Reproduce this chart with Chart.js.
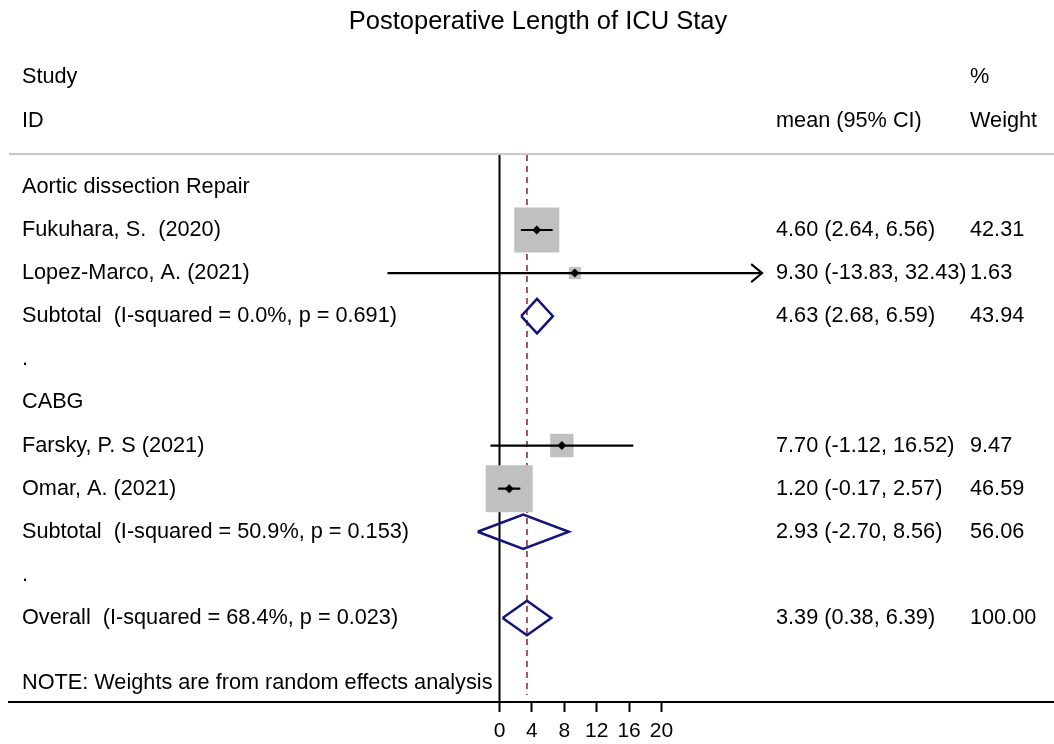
<!DOCTYPE html>
<html>
<head>
<meta charset="utf-8">
<title>Postoperative Length of ICU Stay</title>
<script src="https://cdn.jsdelivr.net/npm/chart.js@4.4.1/dist/chart.umd.min.js"></script>
<style>
  html, body { margin: 0; padding: 0; background: #fff; }
  #wrap { width: 1054px; height: 744px; }
</style>
</head>
<body>
<div id="wrap"><canvas id="forest" width="1054" height="744"></canvas></div>
<script>
const titulo = "Postoperative Length of ICU Stay";
const nota = "NOTE: Weights are from random effects analysis";

// rows 1..11, top to bottom
const rowLabels = [
  "Aortic dissection Repair",
  "Fukuhara, S.  (2020)",
  "Lopez-Marco, A. (2021)",
  "Subtotal  (I-squared = 0.0%, p = 0.691)",
  ".",
  "CABG",
  "Farsky, P. S (2021)",
  "Omar, A. (2021)",
  "Subtotal  (I-squared = 50.9%, p = 0.153)",
  ".",
  "Overall  (I-squared = 68.4%, p = 0.023)"
];

const studyRows = [2, 3, 7, 8];
const studyMean = [4.60, 9.30, 7.70, 1.20];
const studyLow = [2.64, -13.83, -1.12, -0.17];
const studyHigh = [6.56, 32.43, 16.52, 2.57];
const studyWeight = [42.31, 1.63, 9.47, 46.59];

const poolRows = [4, 9, 11];
const poolMean = [4.63, 2.93, 3.39];
const poolLow = [2.68, -2.70, 0.38];
const poolHigh = [6.59, 8.56, 6.39];
const poolWeight = [43.94, 56.06, 100.00];

const xTicks = [0, 4, 8, 12, 16, 20];

// layout / style
const FONT = '"Liberation Sans", Arial, sans-serif';
const Y_MIN = 0.26, Y_MAX = 12.95;
const NOTE_ROW = 12.5, STUDY_HDR = -1.55, ID_HDR = -0.53;
const DIAMOND_H = 0.4;
const ARROW_AT = 20;
const overall = poolMean[poolMean.length - 1];

Chart.defaults.font.family = FONT;
Chart.defaults.color = "#000";

function fmt(v) { return v.toFixed(2); }

const datasets = [];

// reference lines (bottom)
datasets.push({
  data: [{ x: 0, y: Y_MIN }, { x: 0, y: Y_MAX }],
  showLine: true, borderColor: "#000", borderWidth: 2, pointRadius: 0, order: 10
});
datasets.push({
  data: [{ x: overall, y: Y_MIN }, { x: overall, y: 12.79 }],
  showLine: true, borderColor: "#962a3a", borderWidth: 1.6, borderDash: [6, 5], pointRadius: 0, order: 9
});

// grey weight boxes
datasets.push({
  data: studyRows.map((r, i) => ({ x: studyMean[i], y: r })),
  pointStyle: "rect",
  pointRadius: c => (4 + 6.3 * Math.sqrt(studyWeight[c.dataIndex])) / Math.SQRT2,
  backgroundColor: "#c0c0c0", borderWidth: 0, order: 8
});

// CI lines
studyRows.forEach((r, i) => {
  datasets.push({
    data: [{ x: studyLow[i], y: r }, { x: studyHigh[i], y: r }],
    showLine: true, borderColor: "#000", borderWidth: 2.2, pointRadius: 0, order: 5
  });
});

// pooled diamonds
poolRows.forEach((r, i) => {
  datasets.push({
    data: [
      { x: poolLow[i], y: r },
      { x: poolMean[i], y: r - DIAMOND_H },
      { x: poolHigh[i], y: r },
      { x: poolMean[i], y: r + DIAMOND_H },
      { x: poolLow[i], y: r }
    ],
    showLine: true, borderColor: "#14147a", borderWidth: 2.5, pointRadius: 0,
    borderJoinStyle: "miter", order: 4
  });
});

// point estimates
datasets.push({
  data: studyRows.map((r, i) => ({ x: studyMean[i], y: r })),
  pointStyle: "rectRot", pointRadius: 4.5, backgroundColor: "#000", borderWidth: 0, order: 1
});

const forestText = {
  id: "forestText",
  beforeDatasetsDraw(chart) {
    const { ctx, chartArea } = chart;
    ctx.save();
    ctx.strokeStyle = "#c8c8c8";
    ctx.lineWidth = 2;
    ctx.beginPath();
    ctx.moveTo(chartArea.left, chartArea.top - 1);
    ctx.lineTo(chartArea.right, chartArea.top - 1);
    ctx.stroke();
    ctx.restore();
  },
  afterDatasetsDraw(chart) {
    const { ctx, scales: { x, y } } = chart;
    ctx.save();
    ctx.strokeStyle = "#000";
    ctx.lineWidth = 2;
    studyRows.forEach((r, i) => {
      if (studyHigh[i] <= ARROW_AT) return;
      const px = x.getPixelForValue(studyHigh[i]);
      const py = y.getPixelForValue(r);
      ctx.beginPath();
      ctx.moveTo(px - 11, py - 9);
      ctx.lineTo(px, py);
      ctx.lineTo(px - 11, py + 9);
      ctx.stroke();
    });
    ctx.restore();
  },
  afterDraw(chart) {
    const { ctx, scales: { y } } = chart;
    ctx.save();
    ctx.fillStyle = "#000";
    ctx.textBaseline = "middle";
    ctx.textAlign = "center";
    ctx.font = "25.5px " + FONT;
    ctx.fillText(titulo, 538, 22);

    ctx.textAlign = "left";
    ctx.font = "21.7px " + FONT;
    ctx.fillText("Study", 22, y.getPixelForValue(STUDY_HDR));
    ctx.fillText("ID", 22, y.getPixelForValue(ID_HDR));
    ctx.fillText("%", 970, y.getPixelForValue(STUDY_HDR));
    ctx.fillText("Weight", 970, y.getPixelForValue(ID_HDR));
    ctx.fillText("mean (95% CI)", 776, y.getPixelForValue(ID_HDR));

    rowLabels.forEach((t, i) => ctx.fillText(t, 22, y.getPixelForValue(i + 1)));

    studyRows.forEach((r, i) => {
      const py = y.getPixelForValue(r);
      ctx.fillText(`${fmt(studyMean[i])} (${fmt(studyLow[i])}, ${fmt(studyHigh[i])})`, 776, py);
      ctx.fillText(fmt(studyWeight[i]), 970, py);
    });
    poolRows.forEach((r, i) => {
      const py = y.getPixelForValue(r);
      ctx.fillText(`${fmt(poolMean[i])} (${fmt(poolLow[i])}, ${fmt(poolHigh[i])})`, 776, py);
      ctx.fillText(fmt(poolWeight[i]), 970, py);
    });

    ctx.fillText(nota, 22, y.getPixelForValue(NOTE_ROW));
    ctx.restore();
  }
};

new Chart(document.getElementById("forest"), {
  type: "scatter",
  data: { datasets },
  options: {
    responsive: false,
    animation: false,
    layout: { autoPadding: false, padding: { left: 9, top: 155, right: 0, bottom: 0 } },
    plugins: { legend: { display: false }, tooltip: { enabled: false } },
    scales: {
      x: {
        type: "linear",
        min: -60.56,
        max: 68.46,
        afterBuildTicks: s => { s.ticks = xTicks.map(v => ({ value: v })); },
        afterFit: s => { s.height = 42; },
        border: { display: true, color: "#000", width: 2 },
        grid: { drawOnChartArea: false, drawTicks: true, tickLength: 10, tickWidth: 2, tickColor: "#000" },
        ticks: { autoSkip: false, maxRotation: 0, padding: 7, color: "#000", font: { size: 21 } }
      },
      y: {
        type: "linear",
        display: false,
        reverse: true,
        min: Y_MIN,
        max: Y_MAX
      }
    }
  },
  plugins: [forestText]
});
</script>
</body>
</html>
